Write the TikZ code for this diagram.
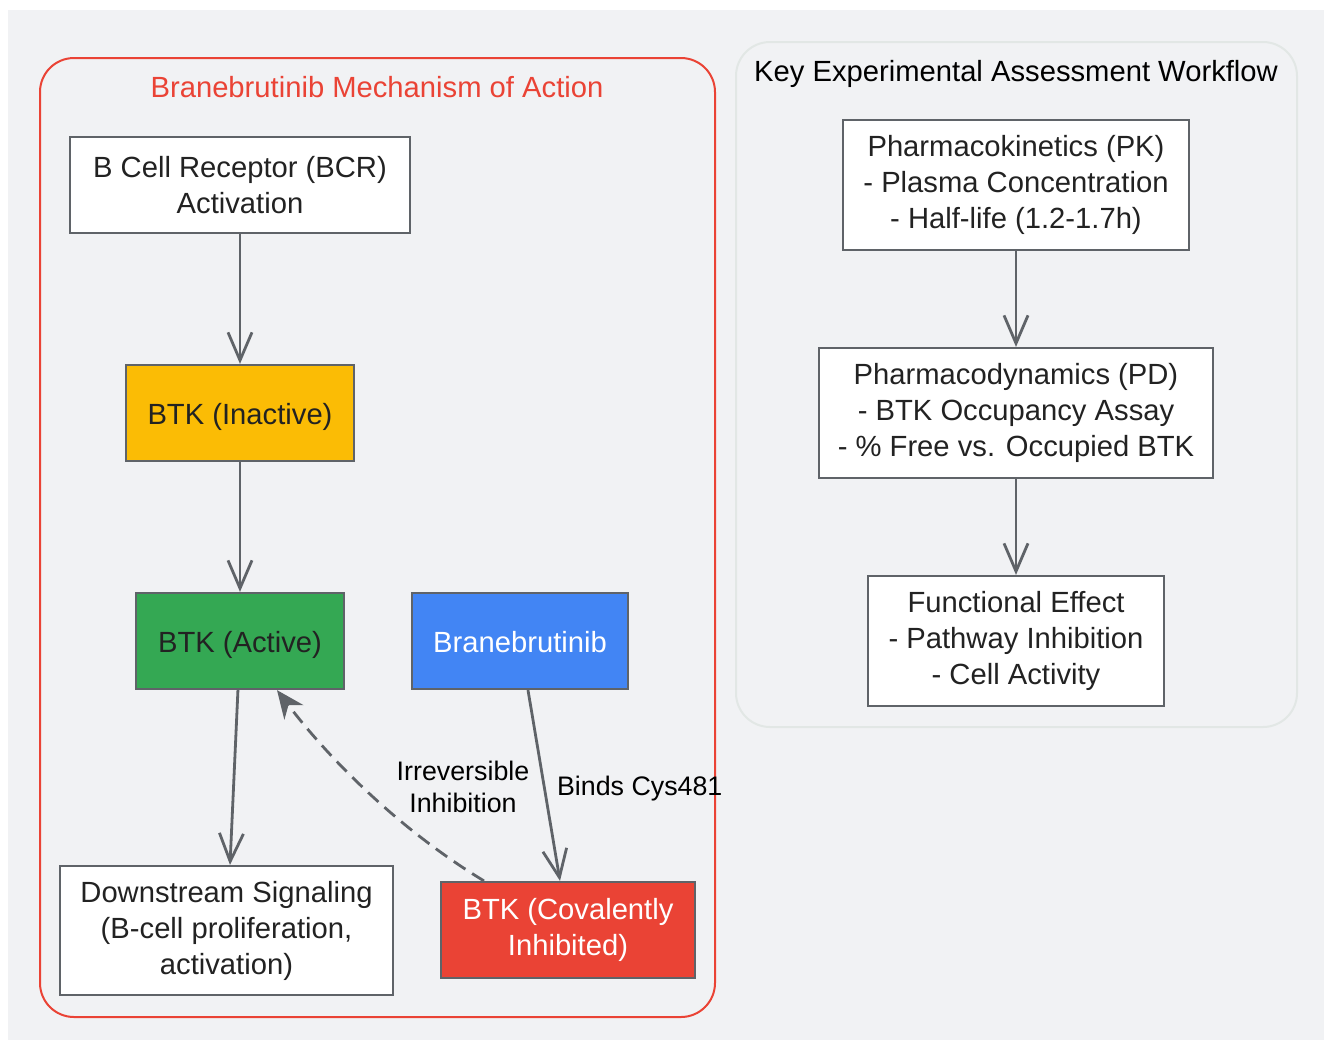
\documentclass[tikz,border=0pt]{standalone}
\usepackage{fontspec}
\setmainfont{Liberation Sans}
\usetikzlibrary{arrows.meta}
\definecolor{bgGray}{HTML}{F1F2F4}
\definecolor{lineGray}{HTML}{5F6368}
\definecolor{gRed}{HTML}{EA4335}
\definecolor{gYellow}{HTML}{FBBC05}
\definecolor{gGreen}{HTML}{34A853}
\definecolor{gBlue}{HTML}{4285F4}
\definecolor{frameGray}{HTML}{E2E7E5}
\definecolor{textDark}{HTML}{222222}

\begin{document}
\begin{tikzpicture}[x=0.5pt, y=-0.5pt, >={Straight Barb[length=14pt, width=12pt]},
    every node/.style={font=\fontsize{14.6}{18}\selectfont, text=textDark},
    box/.style={draw=lineGray, line width=1.1pt, fill=white, align=center, inner sep=0pt},
    oneline/.style={execute at begin node={\rule[-3.1pt]{0pt}{17.8pt}}},
    edgelabel/.style={font=\fontsize{13.4}{16}\selectfont, text=black, align=center},
    flow/.style={->, draw=lineGray, line width=1.4pt},
    cluster/.style={rounded corners=17pt, line width=1pt}]
        % Canvas
        \fill[white] (0,0) rectangle (1324,1040);
        \fill[bgGray] (8,10) rectangle (1324,1040);
        \useasboundingbox (0,0) rectangle (1324,1040);

        % Mechanism of action
        \draw[cluster, draw=gRed, fill=bgGray] (40,58) rectangle (715,1017);
        \node[text=gRed] (moaTitle) at (377,87) {Branebrutinib Mechanism of Action};
        \node[box, minimum width=170pt, minimum height=48pt] (bcr) at (240,185) {B Cell Receptor (BCR)\\Activation};
        \node[box, oneline, fill=gYellow, minimum width=114pt, minimum height=48pt] (btkOff) at (240,413) {BTK (Inactive)};
        \node[box, oneline, fill=gGreen, minimum width=104pt, minimum height=48pt] (btkOn) at (240,641) {BTK (Active)};
        \node[box, oneline, fill=gBlue, text=white, minimum width=108pt, minimum height=48pt] (drug) at (520,641) {Branebrutinib};
        \node[box, minimum width=166.5pt, minimum height=64.5pt] (signal) at (226.5,930.5) {Downstream Signaling\\(B-cell proliferation,\\activation)};
        \node[box, fill=gRed, text=white, minimum width=127pt, minimum height=48pt] (btkCov) at (568,930) {BTK (Covalently\\Inhibited)};

        \draw[flow] (238,689) -- (signal.north -| 230,0);
        \draw[flow] (bcr) -- (btkOff.north);
        \draw[flow] (btkOff.south) -- (btkOn.north);
        \draw[flow] (drug.south -| 528,0) -- (btkCov.north -| 560,0);
        \node[edgelabel, anchor=west] (bindLabel) at (550,789) {Binds Cys481};
        \draw[flow, dashed, dash pattern=on 7pt off 4pt, -{Stealth[length=14pt, width=12pt]}]
            (btkCov.north -| 484,0) .. controls (400,830) and (330,760) .. (btkOn.south -| 277,0);
        \node[edgelabel] (irrLabel) at (463,787) {Irreversible\\Inhibition};

        % Assessment workflow
        \draw[cluster, draw=frameGray, fill=bgGray] (736,42) rectangle (1297,727);
        \node[text=black] (wfTitle) at (1016,74) {Key Experimental Assessment Workflow};
        \node[box, minimum width=173pt, minimum height=65pt] (pk) at (1016,185) {Pharmacokinetics (PK)\\- Plasma Concentration\\- Half-life (1.2-1.7h)};
        \node[box, minimum width=197pt, minimum height=65pt] (pd) at (1016,413) {Pharmacodynamics (PD)\\- BTK Occupancy Assay\\- \% Free vs. Occupied BTK};
        \node[box, minimum width=148pt, minimum height=65pt] (effect) at (1016,641) {Functional Effect\\- Pathway Inhibition\\- Cell Activity};

        \draw[flow] (pk) -- (pd);
        \draw[flow] (pd) -- (effect);
    \end{tikzpicture}
\end{document}
